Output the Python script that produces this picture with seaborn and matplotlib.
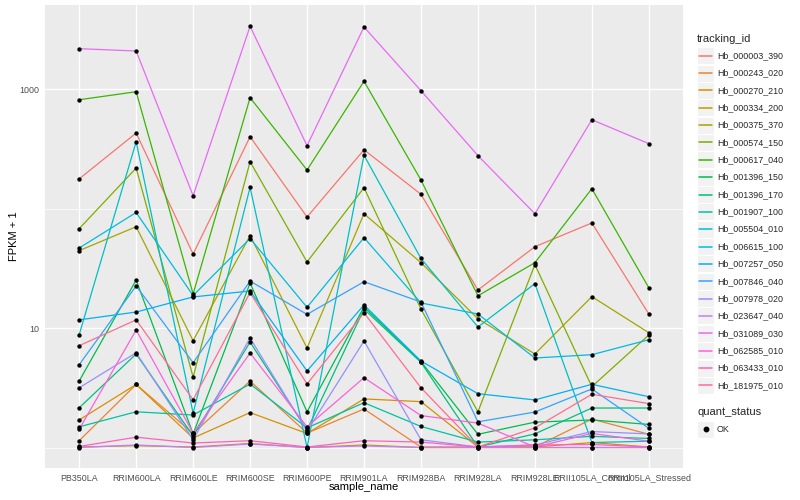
import numpy as np
import pandas as pd
import matplotlib
matplotlib.use("Agg")
import matplotlib.pyplot as plt
import seaborn as sns
from matplotlib.lines import Line2D
from matplotlib.patches import Rectangle
from matplotlib.ticker import FixedLocator, NullFormatter

# ------------------- Data (FPKM) -------------------
samples = ["PB350LA", "RRIM600LA", "RRIM600LE", "RRIM600SE", "RRIM600PE",
           "RRIM901LA", "RRIM928BA", "RRIM928LA", "RRIM928LE",
           "RRII105LA_Control", "RRII105LA_Stressed"]

tracking_ids = ["Hb_000003_390", "Hb_000243_020", "Hb_000270_210", "Hb_000334_200",
                "Hb_000375_370", "Hb_000574_150", "Hb_000617_040", "Hb_001396_150",
                "Hb_001396_170", "Hb_001907_100", "Hb_005504_010", "Hb_006615_100",
                "Hb_007257_050", "Hb_007846_040", "Hb_007978_020", "Hb_023647_040",
                "Hb_031089_030", "Hb_062585_010", "Hb_063433_010", "Hb_181975_010"]

hb_000003_390 = [176, 427, 40.6, 398, 83.9, 309, 130.5, 19.8, 46.9, 74.7, 12.1]
hb_000243_020 = [0.14, 2.37, 0.31, 2.60, 0.32, 1.10, 0.01, 0.01, 0.01, 0.73, 0.29]
hb_000270_210 = [0.70, 2.37, 0.20, 0.96, 0.31, 1.55, 1.42, 0.01, 0.01, 0.10, 0.01]
hb_000334_200 = [0.01, 0.035, 0.01, 0.08, 0.0, 0.05, 0.0, 0.0, 0.0, 0.0, 0.0]
hb_000375_370 = [43.4, 69.4, 6.83, 58.4, 5.8, 89.4, 34.2, 10.96, 5.06, 17.3, 8.13]
hb_000574_150 = [66.8, 217, 2.89, 245.5, 34.7, 148.3, 13.4, 0.99, 32.9, 2.23, 7.74]
hb_000617_040 = [812, 948, 18.3, 845, 209, 1159, 172, 17.6, 34.2, 145.5, 20.7]
hb_001396_150 = [2.60, 24.2, 0.30, 22.8, 0.99, 14.0, 4.24, 0.29, 0.63, 0.70, 0.56]
hb_001396_170 = [1.15, 5.06, 0.25, 6.63, 0.40, 13.4, 4.16, 0.01, 0.30, 1.14, 1.14]
hb_001907_100 = [0.49, 0.99, 0.87, 2.40, 0.46, 1.37, 0.50, 0.11, 0.16, 0.24, 0.19]
hb_005504_010 = [7.79, 361, 0.94, 149.4, 0.0, 278, 37.2, 9.2, 22.5, 0.10, 0.13]
hb_006615_100 = [45.7, 91.6, 17.7, 55.1, 13.9, 56.0, 15.2, 12.1, 4.61, 4.98, 6.98]
hb_007257_050 = [10.7, 12.6, 17.2, 19.4, 3.37, 14.6, 4.29, 1.82, 1.50, 2.38, 1.66]
hb_007846_040 = [3.93, 21.5, 4.12, 23.7, 12.0, 23.4, 15.5, 0.64, 0.98, 2.09, 0.45]
hb_007978_020 = [2.16, 5.21, 0.16, 7.25, 0.37, 6.78, 0.16, 0.01, 0.05, 0.36, 0.30]
hb_023647_040 = [0.0, 0.05, 0.0, 0.07, 0.0, 0.03, 0.0, 0.0, 0.0, 0.0, 0.0]
hb_031089_030 = [2174, 2079, 127, 3349, 334, 3303, 967, 276, 89.4, 552, 348]
hb_062585_010 = [0.42, 8.62, 0.32, 5.17, 0.49, 2.84, 0.85, 0.60, 0.01, 0.31, 0.13]
hb_063433_010 = [0.02, 0.22, 0.09, 0.14, 0.01, 0.14, 0.11, 0.01, 0.05, 0.06, 0.01]
hb_181975_010 = [6.11, 10.7, 1.51, 18.8, 2.40, 12.4, 2.16, 0.01, 0.46, 1.79, 1.33]

series = [hb_000003_390, hb_000243_020, hb_000270_210, hb_000334_200, hb_000375_370,
          hb_000574_150, hb_000617_040, hb_001396_150, hb_001396_170, hb_001907_100,
          hb_005504_010, hb_006615_100, hb_007257_050, hb_007846_040, hb_007978_020,
          hb_023647_040, hb_031089_030, hb_062585_010, hb_063433_010, hb_181975_010]

# ggplot2 default hue palette for 20 levels
palette = ["#F8766D", "#EA8331", "#D89000", "#C09B00", "#A3A500", "#7CAE00", "#39B600",
           "#00BB4E", "#00BF7D", "#00C1A3", "#00BFC4", "#00BAE0", "#00B0F6", "#35A2FF",
           "#9590FF", "#C77CFF", "#E76BF3", "#FA62DB", "#FF62BC", "#FF6C91"]

rows = []
for tid, vals in zip(tracking_ids, series):
    for s, v in zip(samples, vals):
        rows.append((tid, s, v + 1, "OK"))
df = pd.DataFrame(rows, columns=["tracking_id", "sample_name", "fpkm1", "quant_status"])

# ------------------- Style -------------------
sns.set_theme(style="darkgrid", rc={
    "axes.facecolor": "#EBEBEB",
    "grid.color": "white",
    "axes.edgecolor": "#EBEBEB",
})
plt.rcParams["font.family"] = ["Liberation Sans", "DejaVu Sans"]

fig = plt.figure(figsize=(8, 5), dpi=100)
ax = fig.add_axes([45 / 800, 32 / 500, 638 / 800, 463 / 500])
ax.set_yscale("log")

sns.lineplot(data=df, x="sample_name", y="fpkm1", hue="tracking_id",
             hue_order=tracking_ids, palette=palette, estimator=None, sort=False,
             legend=False, linewidth=0.9, ax=ax)
sns.scatterplot(data=df, x="sample_name", y="fpkm1", color="black", s=10,
                linewidth=0, legend=False, ax=ax, zorder=5)

ax.set_xlim(-0.6, len(samples) - 1 + 0.6)
ax.set_ylim(10 ** -0.1715, 10 ** 3.703)
ax.yaxis.set_major_locator(FixedLocator([10, 1000]))
ax.set_yticklabels(["10", "1000"])
ax.yaxis.set_minor_locator(FixedLocator([1, 100, 10000]))
ax.yaxis.set_minor_formatter(NullFormatter())
ax.grid(which="major", color="white", linewidth=1.0)
ax.grid(which="minor", axis="y", color="white", linewidth=0.5)
ax.tick_params(axis="both", which="major", length=2, width=0.8, color="#333333",
               labelsize=6.4, labelcolor="#4D4D4D", pad=2)
ax.tick_params(axis="y", which="minor", length=0)
for sp in ax.spines.values():
    sp.set_visible(False)

ax.set_xlabel("sample_name", fontsize=8, color="black")
ax.set_ylabel("FPKM + 1", fontsize=8, color="black")
ax.xaxis.set_label_coords(0.5, -(487 - 468) / 463)
ax.yaxis.set_label_coords(-(45 - 14) / 638, 0.5)
ax.xaxis.label.set_va("center")
ax.yaxis.label.set_va("center")

# ------------------- Legend (ggplot style) -------------------
def fx(px):
    return px / 800

def fy(py):
    return 1 - py / 500

fig.text(fx(697), fy(39), "tracking_id", fontsize=8, va="center", ha="left")
for i, (tid, col) in enumerate(zip(tracking_ids, palette)):
    yc = 55.7 + 17.35 * i
    fig.add_artist(Rectangle((fx(697), fy(yc + 8.5)), 17 / 800, 17 / 500,
                             transform=fig.transFigure, facecolor="#F2F2F2",
                             edgecolor="white", linewidth=0.8))
    fig.add_artist(Line2D([fx(699), fx(712)], [fy(yc), fy(yc)],
                          transform=fig.transFigure, color=col, linewidth=1.1))
    fig.text(fx(717), fy(yc), tid, fontsize=6.4, va="center", ha="left")

fig.text(fx(697), fy(412), "quant_status", fontsize=8, va="center", ha="left")
fig.add_artist(Rectangle((fx(697), fy(429 + 8.5)), 17 / 800, 17 / 500,
                         transform=fig.transFigure, facecolor="#F2F2F2",
                         edgecolor="white", linewidth=0.8))
fig.add_artist(Line2D([fx(705.5)], [fy(429)], transform=fig.transFigure,
                      marker="o", markersize=3.2, color="black", linestyle="none"))
fig.text(fx(717), fy(429), "OK", fontsize=6.4, va="center", ha="left")

fig.savefig("out.png", dpi=100)
